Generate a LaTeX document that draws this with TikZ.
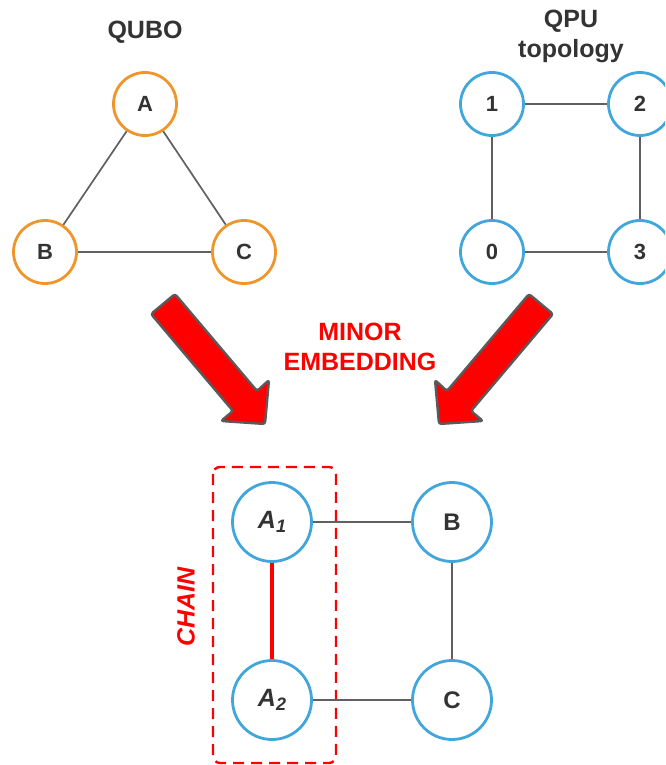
\documentclass[tikz,border=0pt]{standalone}
\usepackage{fontspec}
\setmainfont{Liberation Sans}
\definecolor{qorange}{HTML}{F0952A}
\definecolor{qblue}{HTML}{41A6DC}
\definecolor{qgray}{HTML}{606060}
\definecolor{qtext}{HTML}{333333}
\definecolor{qred}{HTML}{FF0000}
\definecolor{qedge}{HTML}{5A5A5A}
\begin{document}
\begin{tikzpicture}[x=1pt,y=-1pt,
  title/.style={text=qtext,font=\fontsize{25}{30}\selectfont\bfseries,align=center},
  qnode/.style={circle,draw=qorange,line width=2.8pt,minimum size=63pt,inner sep=0pt,text=qtext,font=\fontsize{22}{22}\selectfont\bfseries},
  pnode/.style={qnode,draw=qblue},
  enode/.style={pnode,minimum size=79pt,font=\fontsize{25}{25}\selectfont\bfseries\itshape},
  edge/.style={draw=qgray,line width=1.7pt},
  chainedge/.style={draw=qred,line width=3.2pt},
  bigarrow/.style={fill=qred,draw=qedge,line width=2.4pt,rounded corners=2.5pt,line join=round},
  redtext/.style={text=qred,font=\fontsize{25}{30}\selectfont\bfseries,align=center},
  chainbox/.style={draw=qred,line width=2.4pt,dash pattern=on 11pt off 7pt,rounded corners=7pt}
]
\useasboundingbox (0,0) rectangle (665,765);
\clip (0,0) rectangle (665,765);

% QUBO
\node[title] (qubo) at (145,32) {QUBO};
\node[qnode] (A) at (145,104) {A};
\node[qnode] (B) at (45,252) {B};
\node[qnode] (C) at (244,252) {C};
\draw[edge] (A) -- (B);
\draw[edge] (A) -- (C);
\draw[edge] (B) -- (C);

% QPU topology
\node[title] (qpu) at (571,36) {QPU\\topology};
\node[pnode] (n1) at (492,104) {1};
\node[pnode] (n2) at (640,104) {2};
\node[pnode] (n0) at (492,252) {0};
\node[pnode] (n3) at (640,252) {3};
\draw[edge] (n1) -- (n2);
\draw[edge] (n2) -- (n3);
\draw[edge] (n3) -- (n0);
\draw[edge] (n0) -- (n1);

% arrows
\draw[bigarrow] (151,314) -- (175,294) -- (257,391) -- (269,380) -- (265,424) -- (221,421) -- (233,411) -- cycle;
\draw[bigarrow] (553,314) -- (529,294) -- (447,391) -- (435,380) -- (439,424) -- (483,421) -- (471,411) -- cycle;

\node[redtext] (minor) at (360,347) {MINOR\\EMBEDDING};

% embedding
\draw[chainbox] (213,467) rectangle (336,763);
\node[redtext,font=\fontsize{25}{25}\selectfont\bfseries\itshape,rotate=90] (chain) at (186,607) {CHAIN};
\node[enode] (A1) at (272,522) {A\raisebox{-0.3ex}{\fontsize{18}{18}\selectfont 1}};
\node[enode] (A2) at (272,700) {A\raisebox{-0.3ex}{\fontsize{18}{18}\selectfont 2}};
\node[enode,font=\fontsize{24}{24}\selectfont\bfseries] (Bb) at (452,522) {B};
\node[enode,font=\fontsize{24}{24}\selectfont\bfseries] (Cb) at (452,700) {C};
\draw[edge] (A1) -- (Bb);
\draw[edge] (Bb) -- (Cb);
\draw[edge] (Cb) -- (A2);
\draw[chainedge] (A1) -- (A2);
\end{tikzpicture}
\end{document}
